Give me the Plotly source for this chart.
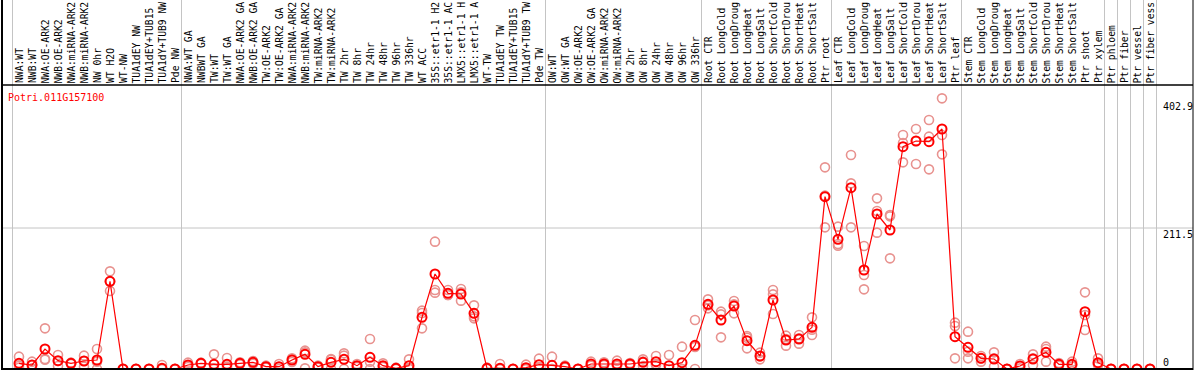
import plotly.graph_objects as go

# category labels as they are visible in the chart header
categories = [
    "NWA:WT", "NWB:WT", "NWA:OE-ARK2", "NWB:OE-ARK2", "NWA:miRNA-ARK2", "NWB:miRNA-ARK2",
    "NW 0hr", "WT H2O", "WT-NW", "TUA1dEY NW", "TUA1dEY+TUB15", "TUA1dY+TUB9 NW", "Pde NW",
    "NWA:WT GA", "NWBWT GA", "TW:WT", "TW:WT GA", "NWA:OE-ARK2 GA", "NWB:OE-ARK2 GA",
    "TW:OE-ARK2", "TW:OE-ARK2 GA", "NWA:miRNA-ARK2", "NWB:miRNA-ARK2", "TW:miRNA-ARK2",
    "TW:miRNA-ARK2", "TW 2hr", "TW 8hr", "TW 24hr", "TW 48hr", "TW 96hr", "TW 336hr",
    "WT ACC", "35S::etr1-1 H2", "35S::etr1-1 AC", "LMX5::etr1-1 H", "LMX5::etr1-1 A",
    "WT-TW", "TUA1dEY TW", "TUA1dEY+TUB15", "TUA1dY+TUB9 TW", "Pde TW",
    "OW:WT", "OW:WT GA", "OW:OE-ARK2", "OW:OE-ARK2 GA", "OW:miRNA-ARK2", "OW:miRNA-ARK2",
    "OW 2hr", "OW 8hr", "OW 24hr", "OW 48hr", "OW 96hr", "OW 336hr",
    "Root CTR", "Root LongCold", "Root LongDroug", "Root LongHeat", "Root LongSalt",
    "Root ShortCold", "Root ShortDrou", "Root ShortHeat", "Root ShortSalt", "Ptr root",
    "Leaf CTR", "Leaf LongCold", "Leaf LongDroug", "Leaf LongHeat", "Leaf LongSalt",
    "Leaf ShortCold", "Leaf ShortDrou", "Leaf ShortHeat", "Leaf ShortSalt", "Ptr leaf",
    "Stem CTR", "Stem LongCold", "Stem LongDroug", "Stem LongHeat", "Stem LongSalt",
    "Stem ShortCold", "Stem ShortDrou", "Stem ShortHeat", "Stem ShortSalt", "Ptr shoot",
    "Ptr xylem", "Ptr phloem", "Ptr fiber", "Ptr vessel", "Ptr fiber vess",
]

means = [
    8.5, 6, 30, 12.5, 8.5, 12, 13.5, 131.5, 0, 0, 0, 1, 0,
    6, 8.5, 7, 7, 8.5, 10, 3.5, 3.5, 13.5, 22, 3.5, 10, 14.5, 5, 17.5, 5, 1, 5,
    77.5, 142.5, 113.5, 112.5, 83.5, 1, 1, 0, 2, 6.5,
    5.5, 3.5, 0, 7.5, 7.5, 7.5, 7.5, 10, 11, 5, 9.5, 35.5,
    97, 73.5, 94.5, 42.5, 19.5, 103.5, 43.5, 45, 62.5, 258.5,
    194.5, 272, 148.5, 232.5, 208.5, 333.5, 342, 341, 360, 48.5,
    32.5, 16, 15, 0, 4.5, 15, 25, 7, 7, 86,
    9.5, 0, 0, 0, 0,
]

rep1 = [
    18.5, 11, 61, 21, 9.5, 20, 30, 146.5, 0, 0, 0, 6, 0,
    9.5, 9.5, 22, 16.5, 10, 12, 5, 7.5, 16, 27.5, 5, 0, 23.5, 7.5, 45, 8.5, 2, 14.5,
    87.5, 191, 118.5, 120, 95.5, 2, 7.5, 0, 6.5, 15.5,
    18.5, 5, 0, 11, 10, 12.5, 9, 14.5, 19.5, 21, 33.5, 73.5,
    104.5, 86, 102, 49.5, 24.5, 118.5, 50, 51, 77.5, 302.5,
    213.5, 321, 184.5, 256, 231, 351, 360, 373.5, 406, 69.5,
    56, 19.5, 25, 0, 7.5, 22, 33.5, 9, 11, 115,
    16, 0, 0, 0, 0,
]

rep2 = [
    2, 1, 15, 4.5, 7.5, 3.5, 0, 117, 0, 0, 0, 0, 0,
    3, 7.5, 1, 1, 7, 8, 2, 0, 10.5, 25, 2, 15, 20, 3, 11, 3, 0, 0,
    61, 118.5, 111, 102.5, 76, 0, 0, 0, 0, 2,
    0, 2, 0, 5, 6, 5, 6, 4.5, 6, 0, 0, 0,
    91, 47.5, 83.5, 31, 14.5, 82.5, 35, 38, 51, 212.5,
    185, 278.5, 141, 204.5, 229, 339, 342, 348.5, 351, 64.5,
    16, 11, 3.5, 0, 1, 6, 11, 5, 4, 81,
    6, 0, 0, 0, 0,
]

rep3 = [
    5, 6, 14, 12, 8.5, 12, 11, 131, 0, 0, 0, 0, 0,
    5.5, 8.5, 0, 3.5, 8.5, 10, 3.5, 3, 14, 1, 3.5, 14, 0, 4.5, 0, 4, 1, 1,
    84, 114.5, 111, 115, 79, 1, 0, 0, 0, 2,
    0, 3.5, 0, 6.5, 6.5, 5, 7.5, 11, 7.5, 0, 0, 33,
    95.5, 82, 97, 47, 19, 112, 45, 46, 59, 260,
    187.5, 212.5, 119.5, 237, 166, 310, 307.5, 299.5, 322, 16,
    26, 16, 16, 0, 4.5, 16, 30, 7, 6, 58.5,
    8, 0, 0, 0, 0,
]

gene_id = "Potri.011G157100"
tick_values = [0, 211.5, 402.9]
tick_labels = ["0", "211.5", "402.9"]
group_breaks = [-1, 12, 40, 52, 62, 72, 83, 84, 85, 86, 87]

W, H = 1194, 370
PX_PER_CAT = 13.0
X0_PX = 19.0
X_MIN = -X0_PX / PX_PER_CAT
X_MAX = X_MIN + W / PX_PER_CAT
ZERO_PX = 369.0
PX_PER_UNIT = 1 / 1.5
Y_MIN = -(H - ZERO_PX) / PX_PER_UNIT
Y_MAX = Y_MIN + H / PX_PER_UNIT


def px_x(p):
    return p / W


def px_y(p):
    return (H - p) / H


FONT = "DejaVu Sans Mono"
xs = list(range(len(categories)))

fig = go.Figure()

rep_style = dict(symbol="circle-open", size=9, color="#E8928F", line=dict(width=1.6, color="#E8928F"))
for reps in (rep1, rep2, rep3):
    fig.add_trace(go.Scatter(
        x=xs, y=reps, mode="markers", marker=rep_style,
        hoverinfo="skip", showlegend=False, cliponaxis=True,
    ))

fig.add_trace(go.Scatter(
    x=xs, y=means, mode="lines+markers",
    line=dict(color="#FF0000", width=1.2),
    marker=dict(symbol="circle-open", size=9, color="#FF0000", line=dict(width=2, color="#FF0000")),
    text=categories, showlegend=False, cliponaxis=True,
))

shapes = []
for b in group_breaks:
    shapes.append(dict(type="line", xref="x", yref="paper", x0=b + 0.5, x1=b + 0.5,
                       y0=px_y(ZERO_PX), y1=1, line=dict(color="#C4C4C4", width=1), layer="below"))
shapes.append(dict(type="line", xref="paper", yref="y", x0=px_x(2), x1=px_x(1193),
                   y0=tick_values[1], y1=tick_values[1], line=dict(color="#C4C4C4", width=1), layer="below"))
shapes.append(dict(type="line", xref="paper", yref="paper", x0=px_x(2), x1=px_x(2), y0=0, y1=1,
                   line=dict(color="black", width=2)))
shapes.append(dict(type="line", xref="paper", yref="paper", x0=px_x(1193), x1=px_x(1193), y0=0, y1=1,
                   line=dict(color="black", width=1)))
shapes.append(dict(type="line", xref="paper", yref="paper", x0=px_x(2), x1=px_x(1193),
                   y0=px_y(85), y1=px_y(85), line=dict(color="black", width=1.5)))
shapes.append(dict(type="line", xref="paper", yref="y", x0=px_x(2), x1=px_x(1193),
                   y0=0, y1=0, line=dict(color="black", width=2)))

annotations = []
for i, c in enumerate(categories):
    annotations.append(dict(
        x=i, xref="x", y=px_y(83.5), yref="paper", text=c, textangle=-90,
        xanchor="center", yanchor="bottom", showarrow=False,
        font=dict(family=FONT, size=9.7, color="black"), borderpad=0, borderwidth=0,
    ))

annotations.append(dict(
    x=px_x(7), xref="paper", y=px_y(91), yref="paper", text=gene_id,
    xanchor="left", yanchor="top", showarrow=False,
    font=dict(family=FONT, size=10, color="#FF0000"), borderpad=0,
))
for v, lab in zip(tick_values, tick_labels):
    annotations.append(dict(
        x=px_x(1162), xref="paper", y=v, yref="y", text=lab,
        xanchor="left", yanchor="bottom" if v == 0 else "top", showarrow=False,
        font=dict(family=FONT, size=10, color="black"), borderpad=0,
    ))

fig.update_layout(
    width=W, height=H, margin=dict(l=0, r=0, t=0, b=0),
    paper_bgcolor="white", plot_bgcolor="white",
    xaxis=dict(range=[X_MIN, X_MAX], visible=False, fixedrange=True),
    yaxis=dict(range=[Y_MIN, Y_MAX], visible=False, fixedrange=True),
    shapes=shapes, annotations=annotations, showlegend=False,
)

fig.write_html(
    "out.html",
    config={"displayModeBar": False},
    post_script="document.body.style.margin='0';document.body.style.overflow='hidden';",
)
